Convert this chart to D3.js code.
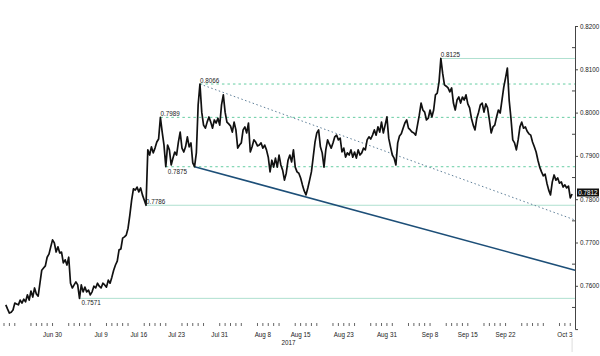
<!DOCTYPE html>
<html><head><meta charset="utf-8">
<script src="https://cdn.jsdelivr.net/npm/d3@7"></script>
<style>body{margin:0;background:#fff}svg{display:block;font-family:"Liberation Sans",Arial,sans-serif}</style>
</head><body><svg id="c" width="600" height="356"></svg>
<script>
// ---- data ----
const seriesStart = "2017-06-21T08:00";
const seriesStepHours = 8;
const prices = [
0.7556,0.7546,0.7537,0.7539,0.7544,0.7560,0.7558,0.7556,0.7567,0.7560,
0.7569,0.7563,0.7579,0.7567,0.7588,0.7574,0.7595,0.7581,0.7576,0.7606,
0.7636,0.7641,0.7646,0.7666,0.7673,0.7690,0.7706,0.7699,0.7678,0.7690,
0.7676,0.7678,0.7653,0.7660,0.7648,0.7666,0.7606,0.7595,0.7602,0.7609,
0.7602,0.7571,0.7602,0.7586,0.7597,0.7586,0.7590,0.7579,0.7586,0.7599,
0.7595,0.7606,0.7599,0.7595,0.7606,0.7602,0.7597,0.7613,0.7606,0.7620,
0.7636,0.7648,0.7657,0.7683,0.7685,0.7710,0.7713,0.7717,0.7733,0.7763,
0.7798,0.7824,0.7821,0.7828,0.7817,0.7826,0.7810,0.7798,0.7786,0.7914,
0.7902,0.7921,0.7907,0.7918,0.7932,0.7939,0.7989,0.7955,0.7925,0.7875,
0.7925,0.7914,0.7879,0.7895,0.7909,0.7902,0.7932,0.7955,0.7918,0.7909,
0.7921,0.7944,0.7921,0.7930,0.7884,0.7875,0.7907,0.8018,0.8066,0.8001,
0.7971,0.7964,0.7978,0.7990,0.7978,0.7964,0.7983,0.7976,0.7987,0.7971,
0.8018,0.8041,0.8001,0.7978,0.7974,0.7969,0.7955,0.7978,0.7960,0.7918,
0.7925,0.7930,0.7960,0.7967,0.7953,0.7976,0.7909,0.7921,0.7937,0.7932,
0.7923,0.7925,0.7930,0.7918,0.7925,0.7914,0.7897,0.7863,0.7890,0.7874,
0.7895,0.7874,0.7902,0.7879,0.7867,0.7844,0.7860,0.7890,0.7902,0.7886,
0.7914,0.7874,0.7863,0.7860,0.7849,0.7833,0.7819,0.7810,0.7826,0.7844,
0.7863,0.7897,0.7932,0.7953,0.7960,0.7921,0.7907,0.7874,0.7914,0.7937,
0.7927,0.7918,0.7930,0.7944,0.7948,0.7937,0.7941,0.7909,0.7918,0.7897,
0.7907,0.7902,0.7914,0.7897,0.7909,0.7895,0.7914,0.7902,0.7907,0.7918,
0.7914,0.7937,0.7944,0.7939,0.7948,0.7960,0.7948,0.7967,0.7955,0.7978,
0.7953,0.7971,0.7990,0.7941,0.7921,0.7902,0.7895,0.7879,0.7930,0.7946,
0.7951,0.7964,0.7976,0.7983,0.7964,0.7960,0.7955,0.7953,0.7948,0.7971,
0.7994,0.8022,0.8006,0.8001,0.7983,0.7987,0.8006,0.7990,0.8006,0.8041,
0.8045,0.8071,0.8125,0.8091,0.8064,0.8061,0.8057,0.8048,0.8057,0.8022,
0.8006,0.8029,0.8036,0.8022,0.8036,0.8029,0.8041,0.8020,0.8011,0.7987,
0.7971,0.7960,0.7987,0.8001,0.8018,0.8022,0.8001,0.8020,0.8011,0.7983,
0.7953,0.7967,0.7971,0.7990,0.8006,0.7999,0.8029,0.8059,0.8080,0.8103,
0.8029,0.7987,0.7937,0.7930,0.7914,0.7937,0.7967,0.7978,0.7964,0.7967,
0.7957,0.7951,0.7948,0.7932,0.7921,0.7909,0.7890,0.7874,0.7863,0.7854,
0.7858,0.7837,0.7821,0.7810,0.7840,0.7856,0.7844,0.7849,0.7837,0.7840,
0.7828,0.7833,0.7826,0.7830,0.7803,0.7812
];
const xTickDates  = ["2017-06-30","2017-07-09","2017-07-16","2017-07-23","2017-07-31","2017-08-08","2017-08-15","2017-08-23","2017-08-31","2017-09-08","2017-09-15","2017-09-22","2017-10-03"];
const xTickLabels = ["Jun 30","Jul 9","Jul 16","Jul 23","Jul 31","Aug 8","Aug 15","Aug 23","Aug 31","Sep 8","Sep 15","Sep 22","Oct 3"];
const yearLabel = "2017";
const yTicks = [0.76,0.77,0.78,0.79,0.80,0.81,0.82];
const yMinorTicks = [0.755,0.765,0.775,0.785,0.795,0.805,0.815];
const solidLevels  = [0.8125,0.7786,0.7571];
const dashedLevels = [0.8066,0.7989,0.7875];
const upperTrendDates  = ["2017-07-27T08:00","2017-10-04T21:00"];
const upperTrendValues = [0.8066,0.7752];
const lowerTrendDates  = ["2017-07-26T08:00","2017-10-04T21:00"];
const lowerTrendValues = [0.7875,0.7636];
const domainStart = "2017-06-21T00:00", domainEnd = "2017-10-04T21:00";

// ---- drawing ----
const parseT = d3.timeParse("%Y-%m-%dT%H:%M");
const parseD = d3.timeParse("%Y-%m-%d");
const t0 = parseT(seriesStart);
const data = prices.map((v,i)=>({t:d3.timeHour.offset(t0,i*seriesStepHours), v}));

const svg = d3.select("#c");
const axisX = 575;
const x = d3.scaleTime().domain([parseT(domainStart), parseT(domainEnd)]).range([4, axisX]);
const y = d3.scaleLinear().domain([0.75, 0.82]).range([329.1, 26]);

const findPivot = lv => data.find(d => Math.abs(d.v - lv) < 1e-9);
const labelsBelow = new Set([0.7875, 0.7571]);

// level lines
function drawLevels(levels, dashed){
  levels.forEach(lv=>{
    const p = findPivot(lv);
    const px = x(p.t);
    svg.append("line").attr("x1",px).attr("x2",axisX).attr("y1",y(lv)).attr("y2",y(lv))
      .attr("stroke", dashed ? "#66cda3" : "#aee0cf").attr("stroke-width",1)
      .attr("stroke-dasharray", dashed ? "2.5,3" : null);
  });
}
drawLevels(solidLevels,false);
drawLevels(dashedLevels,true);

// trend lines
const trend = (ds,vs)=>ds.map((d,i)=>[x(parseT(d)), y(vs[i])]);
svg.append("path").attr("d", d3.line()(trend(upperTrendDates,upperTrendValues)))
  .attr("stroke","#5f7f99").attr("stroke-width",1).attr("stroke-dasharray","1.5,2.5").attr("fill","none");
svg.append("path").attr("d", d3.line()(trend(lowerTrendDates,lowerTrendValues)))
  .attr("stroke","#1d4f78").attr("stroke-width",1.6).attr("fill","none");

// price line
svg.append("path").datum(data)
  .attr("d", d3.line().x(d=>x(d.t)).y(d=>y(d.v)))
  .attr("fill","none").attr("stroke","#111").attr("stroke-width",1.7).attr("stroke-linejoin","round");

// level labels
[...solidLevels, ...dashedLevels].forEach(lv=>{
  const p = findPivot(lv);
  const below = labelsBelow.has(lv);
  svg.append("text").attr("x", x(p.t)+ (below?2:0)).attr("y", y(lv) + (below ? 7 : -1))
    .attr("font-size",6.3).attr("fill","#222").text(d3.format(".4f")(lv));
});

// y axis
const yAxis = d3.axisRight(y).tickValues(yTicks).tickFormat(d3.format(".4f")).tickSize(3).tickSizeOuter(3).tickPadding(2);
const gy = svg.append("g").attr("transform",`translate(${axisX},0)`).call(yAxis);
gy.selectAll("path,line").attr("stroke","#444");
gy.selectAll("text").attr("font-size",6.3).attr("fill","#222").attr("font-family","Liberation Sans, Arial, sans-serif");
gy.selectAll(".minor").data(yMinorTicks).enter().append("line").attr("class","minor")
  .attr("x1",-3).attr("x2",0).attr("y1",d=>y(d)).attr("y2",d=>y(d)).attr("stroke","#444");

// last value box
const last = data[data.length-1];
const lb = svg.append("g").attr("transform",`translate(${axisX+2},${y(last.v)-1.5})`);
lb.append("rect").attr("x",0).attr("y",-4).attr("width",22).attr("height",8).attr("fill","#111");
lb.append("text").attr("x",11).attr("y",2.2).attr("text-anchor","middle").attr("font-size",6.3).attr("fill","#fff").text(d3.format(".4f")(last.v));

// x axis ticks (weekdays) and labels
const days = d3.timeDay.range(parseT(domainStart), parseT(domainEnd)).filter(d=>d.getDay()%6!==0);
svg.append("g").selectAll("line").data(days).enter().append("line")
  .attr("x1",d=>x(d)).attr("x2",d=>x(d)).attr("y1",323).attr("y2",326).attr("stroke","#666");
svg.append("g").selectAll("text").data(xTickDates).enter().append("text")
  .attr("x",d=>x(parseD(d))).attr("y",337).attr("text-anchor","middle").attr("font-size",6.3).attr("fill","#222")
  .text((d,i)=>xTickLabels[i]);
svg.append("text").attr("x", x(parseD("2017-08-15"))-12).attr("y",345).attr("text-anchor","middle")
  .attr("font-size",6.3).attr("fill","#222").text(yearLabel);
svg.append("line").attr("x1",x(last.t)).attr("x2",x(last.t)).attr("y1",338).attr("y2",352).attr("stroke","#ddd");
</script></body></html>
